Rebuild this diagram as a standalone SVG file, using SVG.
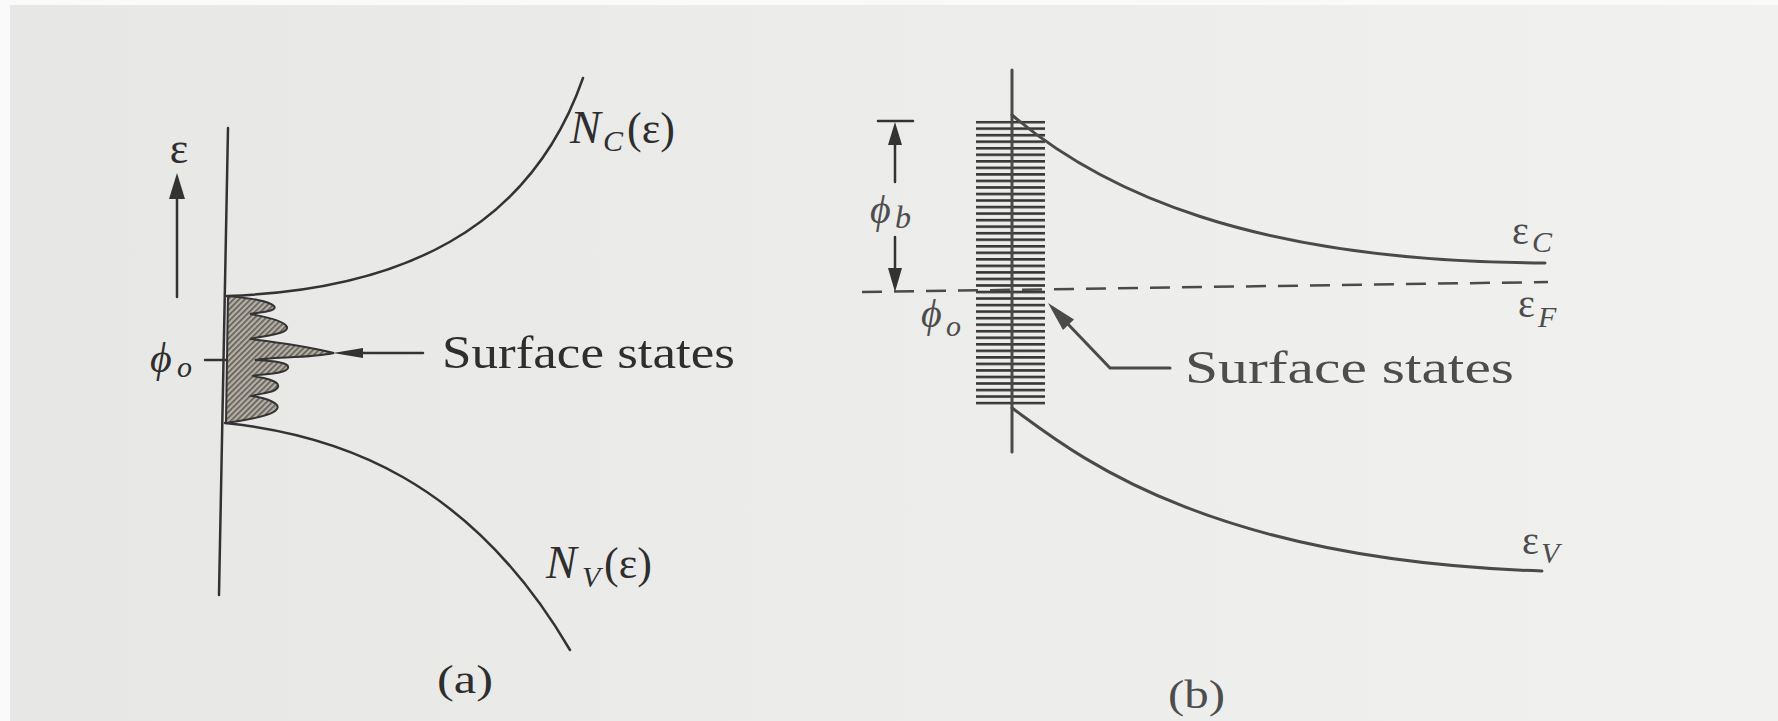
<svg xmlns="http://www.w3.org/2000/svg" width="1778" height="721" viewBox="0 0 1778 721">
<defs>
<linearGradient id="bg" x1="0" y1="0" x2="1" y2="0">
<stop offset="0" stop-color="#e7e7e5"/>
<stop offset="0.5" stop-color="#ececea"/>
<stop offset="1" stop-color="#f1f1ef"/>
</linearGradient>
<pattern id="diag" patternUnits="userSpaceOnUse" width="4" height="4" patternTransform="rotate(45)">
<rect width="4" height="4" fill="#b5b0a6"/>
<rect width="1.6" height="4" fill="#5f5b55"/>
</pattern>
<pattern id="hl" patternUnits="userSpaceOnUse" x="0" y="120.8" width="80" height="6.535">
<rect x="0" y="0" width="80" height="2.6" fill="#363636"/>
</pattern>
<style>
.ln{fill:none;stroke:#333;stroke-width:2.5;stroke-linecap:round}
.lb{fill:none;stroke:#4a4a4a;stroke-width:3;stroke-linecap:round}
.t{font-family:"Liberation Serif","Times New Roman",serif;fill:#2e2e2e}
.tb{font-family:"Liberation Serif","Times New Roman",serif;fill:#4d4d4d}
.it{font-style:italic}
.ah{fill:#333}
</style>
</defs>
<rect x="0" y="0" width="1778" height="721" fill="#fafafa"/>
<rect x="10" y="5" width="1768" height="716" fill="url(#bg)"/>

<g id="panel-a">
<g id="a-axis">
<line class="ln" x1="228" y1="128" x2="219" y2="595"/>
<line class="ln" x1="205" y1="360" x2="227" y2="360"/>
</g>
<g id="a-energy-arrow">
<line class="ln" x1="177" y1="297" x2="177" y2="190"/>
<polygon class="ah" points="177,173 185,199 169,199"/>
<text class="t" x="179" y="163" font-size="44" text-anchor="middle">ε</text>
</g>
<g id="a-surface-states">
<path d="M228 296 C245 298 268 300 274 306 C278 311 262 312 250 314 C262 316 284 320 287 327 C289 334 262 336 250 339 C275 342 310 347 334 353 C312 358 270 357 255 360 C272 361 290 362 288 368 C286 374 262 374 252 376 C265 378 280 381 278 387 C276 393 260 393 252 396 C265 398 281 403 277 409 C273 416 245 420 226 423 Z" fill="url(#diag)" stroke="#333" stroke-width="2"/>
</g>
<g id="a-curves">
<path class="ln" d="M227 296 C400 290 530 230 583 78"/>
<path class="ln" d="M225 423 C340 435 470 480 570 650"/>
</g>
<g id="a-labels">
<text class="t" font-size="46"><tspan class="it" x="570" y="143">N</tspan><tspan class="it" x="603" y="151" font-size="30">C</tspan><tspan x="627" y="143" font-size="44">(ε)</tspan></text>
<text class="t" font-size="46"><tspan class="it" x="546" y="578">N</tspan><tspan class="it" x="582" y="587" font-size="30">V</tspan><tspan x="604" y="578" font-size="44">(ε)</tspan></text>
<text class="t" font-size="42"><tspan class="it" x="150" y="372">ϕ</tspan><tspan class="it" x="177" y="377" font-size="30">o</tspan></text>
<line class="ln" x1="423" y1="353" x2="360" y2="353"/>
<polygon class="ah" points="333,353 363,348 363,358"/>
<text class="t" x="442" y="368" font-size="46" textLength="293" lengthAdjust="spacingAndGlyphs">Surface states</text>
<text class="t" x="437" y="693" font-size="40" textLength="56" lengthAdjust="spacingAndGlyphs">(a)</text>
</g>
</g>

<g id="panel-b">
<g id="b-surface-states">
<rect x="976" y="120.8" width="69" height="284" fill="url(#hl)"/>
</g>
<g id="b-axis">
<line class="lb" x1="1012" y1="70" x2="1012" y2="452"/>
</g>
<g id="b-bands">
<path class="lb" d="M1012 115 C1100 190 1250 262 1545 263"/>
<path class="lb" d="M1012 408 C1070 450 1200 560 1542 571"/>
<path fill="none" stroke="#4a4a4a" stroke-width="2.5" stroke-dasharray="20 12" d="M862 292 L1548 282"/>
</g>
<g id="b-phi-b">
<line class="ln" x1="878" y1="121" x2="913" y2="121"/>
<line class="ln" x1="895" y1="182" x2="895" y2="140"/>
<polygon class="ah" points="895,122 902,145 888,145"/>
<line class="ln" x1="895" y1="237" x2="895" y2="272"/>
<polygon class="ah" points="895,292 902,268 888,268"/>
<text class="tb" font-size="40"><tspan class="it" x="870" y="223">ϕ</tspan><tspan class="it" x="895" y="228" font-size="32">b</tspan></text>
</g>
<g id="b-labels">
<text class="tb" font-size="40"><tspan class="it" x="921" y="327">ϕ</tspan><tspan class="it" x="946" y="336" font-size="30">o</tspan></text>
<polyline class="lb" points="1170,368 1110,368 1065,321"/>
<polygon fill="#4a4a4a" points="1048,303 1074,319.5 1063,330"/>
<text class="tb" x="1185" y="383" font-size="46" textLength="329" lengthAdjust="spacingAndGlyphs">Surface states</text>
<text class="tb" font-size="40"><tspan x="1512" y="244">ε</tspan><tspan class="it" x="1532" y="252" font-size="30">C</tspan></text>
<text class="tb" font-size="40"><tspan x="1518" y="317">ε</tspan><tspan class="it" x="1538" y="327" font-size="30">F</tspan></text>
<text class="tb" font-size="40"><tspan x="1522" y="554">ε</tspan><tspan class="it" x="1541" y="563" font-size="30">V</tspan></text>
<text class="tb" x="1168" y="708" font-size="40" textLength="57" lengthAdjust="spacingAndGlyphs">(b)</text>
</g>
</g>
</svg>
